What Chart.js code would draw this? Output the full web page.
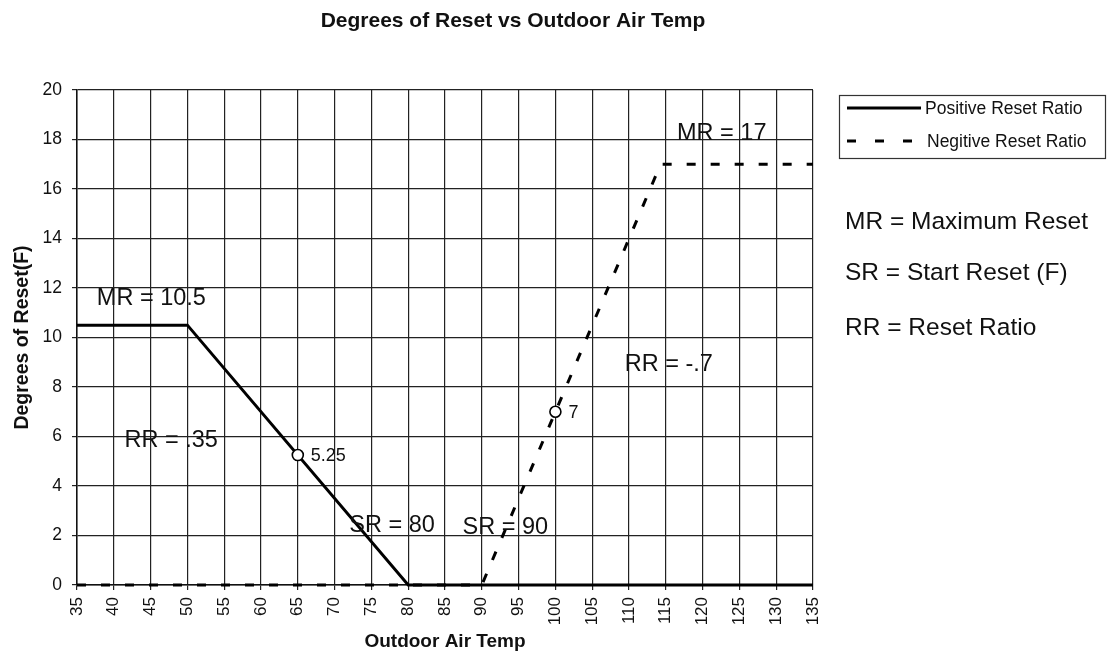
<!DOCTYPE html>
<html>
<head>
<meta charset="utf-8">
<title>Degrees of Reset vs Outdoor Air Temp</title>
<script src="https://cdn.jsdelivr.net/npm/chart.js@4.4.0/dist/chart.umd.min.js"></script>
<style>
  html, body { margin: 0; padding: 0; background: #fff; }
  #wrap { position: relative; width: 1112px; height: 664px; }
</style>
</head>
<body>
<div id="wrap"><canvas id="chart" width="1112" height="664"></canvas></div>
<script>
// reset curves: outdoor air temp (F) vs degrees of reset
const POS_X = [35, 50, 80, 135];
const POS_Y = [10.5, 10.5, 0, 0];
const NEG_X = [35, 90, 114.3, 135];
const NEG_Y = [0, 0, 17, 17];

// sample points marked with open circles
const MARK_X = [65, 100];
const MARK_Y = [5.25, 7];

const SERIES_NAMES = ['Positive Reset Ratio', 'Negitive Reset Ratio'];
const KEY_LINES = ['MR = Maximum Reset', 'SR = Start Reset (F)', 'RR = Reset Ratio'];

// callouts inside the plot, placed in data units
const NOTE_TEXT = ['MR = 10.5', 'RR = .35', 'SR = 80', 'SR = 90', 'RR = -.7', 'MR = 17'];
const NOTE_X = [45.1, 47.8, 77.8, 93.2, 115.4, 122.6];
const NOTE_Y = [11.56, 5.82, 2.42, 2.34, 8.9, 18.26];

const FONT = "'Liberation Sans', Arial, sans-serif";
const NEG_DASH = [9, 15];

const toPoints = (xs, ys) => xs.map((x, i) => ({ x, y: ys[i] }));

const decorations = {
  id: 'decorations',
  afterDatasetsDraw(chart) {
    const { ctx, scales: { x, y } } = chart;
    ctx.save();
    ctx.fillStyle = '#111';
    ctx.textBaseline = 'middle';
    ctx.textAlign = 'center';
    ctx.font = `23.5px ${FONT}`;
    NOTE_TEXT.forEach((t, i) => {
      ctx.fillText(t, x.getPixelForValue(NOTE_X[i]), y.getPixelForValue(NOTE_Y[i]));
    });
    // value labels beside the open circles
    ctx.textAlign = 'left';
    ctx.font = `18px ${FONT}`;
    MARK_X.forEach((mx, i) => {
      ctx.fillText(String(MARK_Y[i]), x.getPixelForValue(mx) + 13, y.getPixelForValue(MARK_Y[i]) + 1);
    });
    ctx.restore();
  },
  afterDraw(chart) {
    const { ctx } = chart;
    ctx.save();
    ctx.fillStyle = '#111';
    ctx.textBaseline = 'middle';

    ctx.textAlign = 'center';
    ctx.font = `bold 21px ${FONT}`;
    ctx.fillText('Degrees of Reset vs Outdoor Air Temp', 513, 21);

    // legend box
    ctx.strokeStyle = '#333';
    ctx.lineWidth = 1.2;
    ctx.strokeRect(839.5, 95.5, 266, 63);

    ctx.strokeStyle = '#000';
    ctx.lineWidth = 3;
    ctx.beginPath();
    ctx.moveTo(847, 108);
    ctx.lineTo(921, 108);
    ctx.stroke();

    ctx.setLineDash([9, 19]);
    ctx.beginPath();
    ctx.moveTo(847, 141);
    ctx.lineTo(913, 141);
    ctx.stroke();
    ctx.setLineDash([]);

    ctx.textAlign = 'left';
    ctx.font = `17.5px ${FONT}`;
    ctx.fillText(SERIES_NAMES[0], 925, 109);
    ctx.fillText(SERIES_NAMES[1], 927, 142);

    ctx.font = `24.5px ${FONT}`;
    KEY_LINES.forEach((t, i) => ctx.fillText(t, 845, [222, 273, 328][i]));
    ctx.restore();
  }
};

new Chart(document.getElementById('chart'), {
  type: 'scatter',
  data: {
    datasets: [
      {
        label: SERIES_NAMES[0],
        data: toPoints(POS_X, POS_Y),
        showLine: true,
        borderColor: '#000',
        borderWidth: 3,
        pointRadius: 0,
        clip: false,
        order: 1,
      },
      {
        label: SERIES_NAMES[1],
        data: toPoints(NEG_X, NEG_Y),
        showLine: true,
        borderColor: '#000',
        borderWidth: 3,
        borderDash: NEG_DASH,
        pointRadius: 0,
        clip: false,
        order: 2,
      },
      {
        label: 'marks',
        data: toPoints(MARK_X, MARK_Y),
        showLine: false,
        pointRadius: 5.5,
        pointBackgroundColor: '#fff',
        pointBorderColor: '#000',
        pointBorderWidth: 1.6,
        clip: false,
        order: 0,
      },
    ],
  },
  options: {
    responsive: false,
    devicePixelRatio: 1,
    animation: false,
    layout: { padding: { top: 90, right: 299, bottom: 0, left: 0 } },
    plugins: {
      legend: { display: false },
      title: { display: false },
      tooltip: { enabled: false },
    },
    scales: {
      x: {
        type: 'linear',
        min: 35,
        max: 135,
        afterFit: s => { s.height = 79; },
        ticks: {
          stepSize: 5,
          minRotation: 90,
          maxRotation: 90,
          padding: 7,
          color: '#111',
          font: { family: FONT, size: 17 },
        },
        grid: { color: '#222', lineWidth: 1.2, tickLength: 5 },
        border: { color: '#111', width: 1.5 },
        title: {
          display: true,
          text: 'Outdoor Air Temp',
          color: '#111',
          font: { family: FONT, size: 19, weight: 'bold' },
          padding: { top: 0, bottom: 11 },
        },
      },
      y: {
        min: 0,
        max: 20,
        afterFit: s => { s.width = 77; },
        ticks: {
          stepSize: 2,
          padding: 10,
          color: '#111',
          font: { family: FONT, size: 17.5 },
        },
        grid: { color: '#222', lineWidth: 1.2, tickLength: 5 },
        border: { color: '#111', width: 1.5 },
        title: {
          display: true,
          text: 'Degrees of Reset(F)',
          color: '#111',
          font: { family: FONT, size: 19.5, weight: 'bold' },
          padding: { top: 11, bottom: 0 },
        },
      },
    },
  },
  plugins: [decorations],
});
</script>
</body>
</html>
